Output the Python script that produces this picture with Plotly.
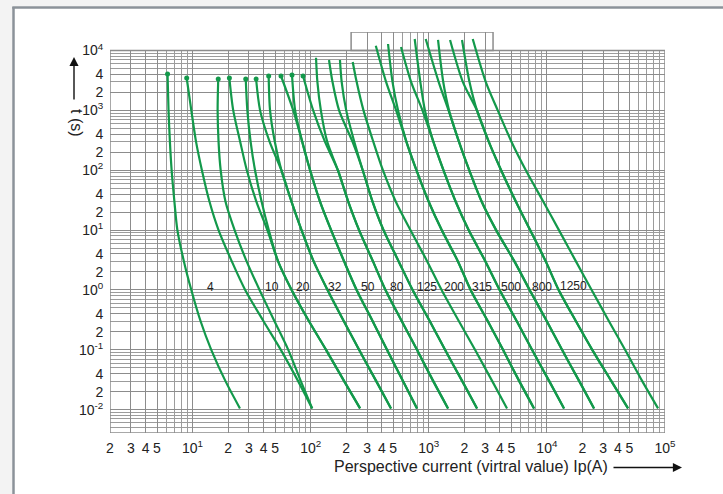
import numpy as np
import plotly.graph_objects as go

GREEN = "#13994b"
GRID = "#8c8c8c"
FONT = "Liberation Sans, Arial, sans-serif"

ratings = [4, 6, 10, 16, 20, 25, 32, 40, 50, 63, 80, 100, 125, 160, 200, 250, 315, 400, 500, 630, 800, 1000, 1250]

# common time rows (s) at which the currents were read
t_rows = [1000, 300, 100, 30, 10, 3, 1, 0.3, 0.1, 0.03, 0.0105]
# start time (s) of each curve (top end)
t_start = [4050, 3470, 3340, 3470, 3340, 3340, 3750, 3750, 3900, 3750, 7580, 6940, 6940,
           6430, 12030, 12840, 11440, 15560, 15560, 14980, 14980, 14980, 15560]
# curves 11..23 also read at 3000 s
extra_3000 = [False] * 10 + [True] * 13

# currents (A): start point, (3000 s), then at t_rows
i_4 = [6.14, 6.26, 6.43, 6.65, 7.02, 7.44, 8.45, 9.76, 11.7, 14.4, 19.0, 25.2]
i_6 = [8.92, 9.76, 10.7, 12.0, 13.9, 16.6, 21.5, 27.9, 39.9, 55.9, 78.3, 103]
i_10 = [16.5, 16.3, 16.6, 17.3, 19.0, 22.7, 28.7, 36.9, 49.4, 64.6, 82.5, 103]
i_16 = [20.5, 22.1, 25.3, 28.8, 34.7, 43.0, 53.0, 69.0, 96.8, 135, 192, 262]
i_20 = [28.2, 29.1, 31.0, 33.8, 38.4, 44.2, 53.0, 69.0, 96.8, 135, 192, 262]
i_25 = [34.5, 37.3, 44.9, 56.5, 68.8, 83.7, 106, 139, 191, 257, 359, 479]
i_32 = [44.1, 45.3, 49.7, 56.5, 68.8, 83.7, 106, 139, 191, 257, 359, 479]
i_40 = [56.1, 71.2, 84.8, 98.9, 120, 149, 192, 245, 335, 443, 606, 795]
i_50 = [69.5, 73.9, 84.8, 98.9, 120, 149, 192, 245, 335, 443, 606, 795]
i_63 = [86.2, 105, 132, 170, 208, 257, 337, 430, 591, 795, 1091, 1456]
i_80 = [111, 114, 122, 138, 170, 208, 257, 337, 430, 591, 795, 1091, 1456]
i_100 = [143, 153, 174, 226, 276, 334, 414, 556, 730, 1021, 1373, 1920, 2562]
i_125 = [177, 183, 200, 234, 276, 334, 414, 556, 730, 1021, 1373, 1920, 2562]
i_160 = [227, 245, 280, 339, 409, 525, 699, 970, 1285, 1800, 2464, 3446, 4598]
i_200 = [356, 435, 529, 646, 786, 997, 1287, 1766, 2262, 3162, 4254, 5834, 7785]
i_250 = [452, 493, 549, 646, 786, 997, 1287, 1766, 2262, 3162, 4254, 5834, 7785]
i_315 = [582, 708, 884, 1093, 1331, 1688, 2175, 3018, 3980, 5565, 7486, 10470, 13970]
i_400 = [760, 848, 928, 1093, 1331, 1688, 2175, 3018, 3980, 5565, 7486, 10470, 13970]
i_500 = [942, 1212, 1470, 1800, 2200, 2802, 3718, 5312, 7144, 9990, 13440, 18790, 25080]
i_630 = [1198, 1325, 1484, 1800, 2200, 2802, 3718, 5312, 7144, 9990, 13440, 18790, 25080]
i_800 = [1514, 1942, 2557, 3218, 4098, 5460, 7214, 9780, 12580, 17620, 24220, 35140, 48650]
i_1000 = [1912, 2210, 2557, 3218, 4098, 5460, 7214, 9780, 12580, 17620, 24220, 35140, 48650]
i_1250 = [2356, 3036, 3836, 5010, 6634, 9312, 12650, 17620, 23940, 33540, 45900, 64180, 87360]

curve_i = [i_4, i_6, i_10, i_16, i_20, i_25, i_32, i_40, i_50, i_63, i_80, i_100,
           i_125, i_160, i_200, i_250, i_315, i_400, i_500, i_630, i_800, i_1000, i_1250]
curve_t = [[ts] + ([3000] if ex else []) + t_rows for ts, ex in zip(t_start, extra_3000)]

# labels written on the chart
label_text = ["4", "10", "20", "32", "50", "80", "125", "200", "315", "500", "800", "1250"]
label_i = [14.3, 47.1, 86.1, 161, 304, 536, 961, 1637, 2808, 4943, 9048, 16660]
label_t = [1.12, 1.12, 1.12, 1.12, 1.12, 1.12, 1.12, 1.12, 1.12, 1.12, 1.12, 1.18]

x_tickvals = [2, 3, 4, 5, 10, 20, 30, 40, 50, 100, 200, 300, 400, 500, 1000,
              2000, 3000, 4000, 5000, 10000, 20000, 30000, 40000, 50000, 100000]
x_ticktext = ["2", "3", "4", "5", "10<sup>1</sup>", "2", "3", "4", "5", "10<sup>2</sup>",
              "2", "3", "4", "5", "10<sup>3</sup>", "2", "3", "4", "5", "10<sup>4</sup>",
              "2", "3", "4", "5", "10<sup>5</sup>"]
y_tickvals = [0.004, 0.01, 0.02, 0.04, 0.1, 0.2, 0.4, 1, 2, 4, 10, 20, 40,
              100, 200, 400, 1000, 2000, 4000, 10000]
y_ticktext = ["4", "10<sup>-2</sup>", "2", "4", "10<sup>-1</sup>", "2", "4", "10<sup>0</sup>",
              "2", "4", "10<sup>1</sup>", "2", "4", "10<sup>2</sup>", "2", "4",
              "10<sup>3</sup>", "2", "4", "10<sup>4</sup>"]

X_MIN, X_MAX = 2, 100000
Y_MIN, Y_TOP_MAIN, Y_TOP = 0.00408, 10000, 10 ** 4.309
EXT_LO, EXT_HI = 220, 3500

fig = go.Figure()
for xs, ts in zip(curve_i, curve_t):
    fig.add_trace(go.Scatter(x=xs, y=ts, mode="lines",
                             line=dict(color=GREEN, width=2.2, shape="spline", smoothing=0.8),
                             hoverinfo="skip", showlegend=False))
fig.add_trace(go.Scatter(x=[c[0] for c in curve_i[:10]], y=[c[0] for c in curve_t[:10]],
                         mode="markers", marker=dict(color=GREEN, size=5),
                         hoverinfo="skip", showlegend=False))

shapes = []
for a, b in [(1, EXT_LO), (EXT_HI, 200000)]:
    shapes.append(dict(type="rect", xref="x", yref="y", x0=a, x1=b, y0=Y_TOP_MAIN, y1=1e5,
                       fillcolor="white", line=dict(width=0), layer="between"))
shapes.append(dict(type="rect", xref="x", yref="y", x0=X_MIN, x1=X_MAX, y0=Y_MIN, y1=Y_TOP_MAIN,
                   line=dict(color=GRID, width=1.5), layer="between"))
shapes.append(dict(type="rect", xref="x", yref="y", x0=EXT_LO, x1=EXT_HI, y0=Y_TOP_MAIN, y1=Y_TOP,
                   line=dict(color=GRID, width=1.5), layer="between"))

W, H, L, R, T, B = 723, 494, 110, 58, 32, 61
pw, ph = W - L - R, H - T - B
px = lambda p: (p - L) / pw
py = lambda p: (H - B - p) / ph
shapes.append(dict(type="rect", xref="paper", yref="paper", x0=px(0), x1=px(12.5), y0=py(H), y1=py(0),
                   fillcolor="#f3f3f3", line=dict(width=0), layer="below"))
shapes.append(dict(type="rect", xref="paper", yref="paper", x0=px(0), x1=px(W), y0=py(6.5), y1=py(0),
                   fillcolor="#f3f3f3", line=dict(width=0), layer="below"))
shapes.append(dict(type="line", xref="paper", yref="paper", x0=px(13.5), x1=px(13.5), y0=py(H), y1=py(7),
                   line=dict(color="#8b9299", width=2.5), layer="below"))
shapes.append(dict(type="line", xref="paper", yref="paper", x0=px(12.3), x1=px(W), y0=py(7.5), y1=py(7.5),
                   line=dict(color="#8b9299", width=2.5), layer="below"))

annotations = []
for txt, li, lt in zip(label_text, label_i, label_t):
    annotations.append(dict(x=np.log10(li), y=np.log10(lt), xref="x", yref="y", text=txt,
                            showarrow=False, font=dict(family=FONT, size=12, color="#222")))
annotations.append(dict(x=px(471), y=py(466), xref="paper", yref="paper",
                        xanchor="center", yanchor="middle",
                        text="Perspective current (virtral value) Ip(A)", showarrow=False,
                        font=dict(family=FONT, size=16, color="#222")))
annotations.append(dict(x=px(682), y=py(467.5), xref="paper", yref="paper", text="",
                        showarrow=True, ax=-70, ay=0, arrowhead=2, arrowsize=1.3,
                        arrowwidth=1.4, arrowcolor="#111"))
annotations.append(dict(x=px(76), y=py(123), xref="paper", yref="paper", text="t (s)",
                        xanchor="center", yanchor="middle",
                        textangle=90, showarrow=False, font=dict(family=FONT, size=16, color="#222")))
annotations.append(dict(x=px(74), y=py(57), xref="paper", yref="paper", text="",
                        showarrow=True, ax=0, ay=44, arrowhead=2, arrowsize=1.3,
                        arrowwidth=1.4, arrowcolor="#111"))

fig.update_layout(
    width=W, height=H, margin=dict(l=L, r=R, t=T, b=B),
    paper_bgcolor="white", plot_bgcolor="white",
    shapes=shapes, annotations=annotations, showlegend=False,
    font=dict(family=FONT, color="#222"),
)
fig.update_xaxes(type="log", range=[np.log10(X_MIN), np.log10(X_MAX)],
                 tickmode="array", tickvals=x_tickvals, ticktext=x_ticktext,
                 showgrid=True, gridcolor=GRID, gridwidth=1,
                 minor=dict(dtick="D1", showgrid=True, gridcolor="#9c9c9c", gridwidth=1),
                 showline=False, zeroline=False, ticks="outside", ticklen=2,
                 tickcolor="rgba(0,0,0,0)",
                 tickfont=dict(family=FONT, size=14, color="#222"))
fig.update_yaxes(type="log", range=[np.log10(Y_MIN), np.log10(Y_TOP)],
                 tickmode="array", tickvals=y_tickvals, ticktext=y_ticktext,
                 showgrid=True, gridcolor=GRID, gridwidth=1,
                 minor=dict(dtick="D1", showgrid=True, gridcolor="#9c9c9c", gridwidth=1),
                 showline=False, zeroline=False, ticks="outside", ticklen=3,
                 tickcolor="rgba(0,0,0,0)", tickfont=dict(family=FONT, size=14, color="#222"))

fig.write_html("out.html", config={"displayModeBar": False},
               post_script="document.body.style.margin='0px';document.body.style.overflow='hidden';")
